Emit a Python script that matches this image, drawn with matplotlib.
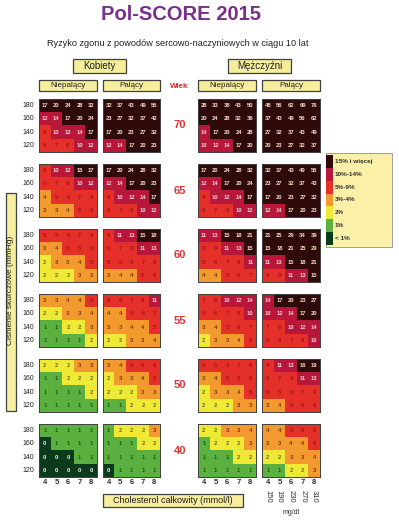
import numpy as np
import matplotlib.pyplot as plt
from matplotlib.colors import ListedColormap, BoundaryNorm
from matplotlib.patches import Rectangle

plt.rcParams['font.family'] = ['Liberation Sans', 'DejaVu Sans']

# --- data (10-year CV death risk, %) ---
ages = [70, 65, 60, 55, 50, 40]
sbp = [180, 160, 140, 120]
chol = [4, 5, 6, 7, 8]
chol_mg = ['150', '190', '230', '270', '310']
legend_labels = ['15% i więcej', '10%-14%', '5%-9%', '3%-4%', '2%', '1%', '< 1%']

women_nonsmoker = [
    [[17, 20, 24, 28, 32], [12, 14, 17, 20, 24], [9, 10, 12, 14, 17], [6, 7, 8, 10, 12]],
    [[9, 10, 12, 15, 17], [6, 7, 8, 10, 12], [4, 5, 6, 7, 8], [3, 3, 4, 5, 6]],
    [[5, 5, 6, 7, 8], [3, 4, 5, 5, 6], [2, 3, 3, 4, 5], [2, 2, 2, 3, 3]],
    [[3, 3, 4, 4, 5], [2, 2, 3, 3, 4], [1, 1, 2, 2, 3], [1, 1, 1, 1, 2]],
    [[2, 2, 2, 3, 3], [1, 1, 2, 2, 2], [1, 1, 1, 1, 2], [1, 1, 1, 1, 1]],
    [[1, 1, 1, 1, 1], [0, 1, 1, 1, 1], [0, 0, 0, 1, 1], [0, 0, 0, 0, 0]],
]
women_smoker = [
    [[32, 37, 43, 49, 55], [23, 27, 32, 37, 42], [17, 20, 23, 27, 32], [12, 14, 17, 20, 23]],
    [[17, 20, 24, 28, 32], [12, 14, 17, 20, 23], [9, 10, 12, 14, 17], [6, 7, 8, 10, 12]],
    [[9, 11, 13, 15, 18], [6, 7, 8, 11, 13], [5, 5, 6, 7, 9], [3, 4, 4, 5, 6]],
    [[5, 6, 7, 9, 11], [4, 4, 5, 6, 7], [3, 3, 4, 4, 5], [2, 2, 3, 3, 4]],
    [[3, 4, 5, 5, 6], [2, 3, 3, 4, 5], [2, 2, 2, 3, 3], [1, 1, 2, 2, 2]],
    [[1, 2, 2, 2, 3], [1, 1, 1, 2, 2], [1, 1, 1, 1, 1], [0, 1, 1, 1, 1]],
]
men_nonsmoker = [
    [[28, 33, 38, 43, 50], [20, 24, 28, 32, 36], [14, 17, 20, 24, 28], [10, 12, 14, 17, 20]],
    [[17, 20, 24, 28, 32], [12, 14, 17, 20, 24], [9, 10, 12, 14, 17], [6, 7, 8, 10, 12]],
    [[11, 13, 15, 18, 21], [8, 9, 11, 13, 15], [5, 6, 7, 9, 11], [4, 4, 5, 6, 7]],
    [[7, 8, 10, 12, 14], [5, 6, 7, 8, 10], [3, 4, 5, 6, 7], [2, 3, 3, 4, 5]],
    [[5, 5, 6, 7, 8], [3, 4, 5, 5, 6], [2, 3, 3, 4, 5], [2, 2, 2, 3, 3]],
    [[2, 2, 3, 3, 4], [1, 2, 2, 2, 3], [1, 1, 1, 2, 2], [1, 1, 1, 1, 1]],
]
men_smoker = [
    [[48, 56, 62, 69, 76], [37, 43, 49, 56, 62], [27, 32, 37, 43, 49], [20, 23, 27, 32, 37]],
    [[32, 37, 43, 49, 55], [23, 27, 32, 37, 43], [17, 20, 23, 27, 32], [12, 14, 17, 20, 23]],
    [[21, 25, 29, 34, 39], [15, 18, 21, 25, 29], [11, 13, 15, 18, 21], [8, 9, 11, 13, 15]],
    [[14, 17, 20, 23, 27], [10, 12, 14, 17, 20], [7, 8, 10, 12, 14], [5, 6, 7, 8, 10]],
    [[9, 11, 13, 16, 19], [6, 7, 9, 11, 13], [5, 5, 6, 7, 9], [3, 4, 5, 5, 6]],
    [[4, 4, 5, 6, 8], [3, 3, 4, 4, 6], [2, 2, 3, 3, 4], [1, 1, 2, 2, 3]],
]

colors = ['#0b3b1c', '#5bb040', '#eee935', '#f39a2e', '#e5302a', '#b8173a', '#2e0a0a']
txt_colors = ['#f0f0f0', '#1c5a16', '#6b6a10', '#7a3a08', '#a01515', '#f6cdd6', '#f0dcc8']
cmap = ListedColormap(colors)
bounds = [-0.5, 0.5, 1.5, 2.5, 4.5, 9.5, 14.5, 200]
norm = BoundaryNorm(bounds, cmap.N)

W, H = 399, 523
fig = plt.figure(figsize=(W / 100, H / 100), dpi=100)


def fx(x):
    return x / W


def fy(y):
    return 1 - y / H


def box(x0, y0, x1, y1, text, size, fc='#f6ee9c', rot=0, ty=None):
    fig.patches.append(Rectangle((fx(x0), fy(y1)), fx(x1) - fx(x0), fy(y0) - fy(y1),
                                 transform=fig.transFigure, fc=fc, ec='#404040', lw=0.9))
    ty = (y0 + y1) / 2 if ty is None else ty
    fig.text(fx((x0 + x1) / 2), fy(ty), text, ha='center', va='center',
             fontsize=size, rotation=rot, color='#202020')


# titles and headers
fig.text(fx(181), fy(15), 'Pol-SCORE 2015', ha='center', va='center', fontsize=14.5,
         fontweight='bold', color='#7a2e8c')
fig.text(fx(178), fy(43), 'Ryzyko zgonu z powodów sercowo-naczyniowych w ciągu 10 lat',
         ha='center', va='center', fontsize=6.6, color='#202020')
box(73, 59, 126, 73, 'Kobiety', 7)
box(228, 59, 291, 73, 'Mężczyźni', 7)
cols = [(39, 97), (103, 160), (198, 256), (262, 320)]
for (x0, x1), lab in zip(cols, ['Niepalący', 'Palący', 'Niepalący', 'Palący']):
    box(x0, 80, x1, 91, lab, 5.8)
fig.text(fx(179), fy(86), 'Wiek', ha='center', va='center', fontsize=5.8,
         fontweight='bold', color='#e02828')

# grids
groups = [women_nonsmoker, women_smoker, men_nonsmoker, men_smoker]
top0, step, bh = 99, 65, 53
for j, grp in enumerate(groups):
    x0, x1 = cols[j]
    for i, age in enumerate(ages):
        top = top0 + step * i
        ax = fig.add_axes([fx(x0), fy(top + bh), fx(x1) - fx(x0), bh / H])
        arr = np.array(grp[i])
        ax.imshow(arr, cmap=cmap, norm=norm, aspect='auto', interpolation='nearest')
        lev = np.digitize(arr, bounds[1:-1])
        for r in range(arr.shape[0]):
            for c in range(arr.shape[1]):
                ax.text(c, r, str(arr[r, c]), ha='center', va='center', fontsize=4.2,
                        fontweight='bold', color=txt_colors[lev[r, c]])
        ax.set_xticks([])
        ax.set_yticks([])
        for s in ax.spines.values():
            s.set_color('#404040')
            s.set_linewidth(0.7)
        if j == 0:
            for r, p in enumerate(sbp):
                fig.text(fx(34), fy(top + bh * (r + 0.5) / 4), str(p), ha='right',
                         va='center', fontsize=5, color='#202020')
            fig.text(fx(180), fy(top + bh / 2), str(age), ha='center', va='center',
                     fontsize=8, fontweight='bold', color='#e03535')
    cw = (x1 - x0) / 5
    for c, v in enumerate(chol):
        fig.text(fx(x0 + cw * (c + 0.5)), fy(482), str(v), ha='center', va='center',
                 fontsize=5.5, fontweight='bold', color='#303030')
        if j == 3:
            fig.text(fx(x0 + cw * (c + 0.5)), fy(496), chol_mg[c], ha='center', va='center',
                     fontsize=5.5, rotation=270, color='#303030')
fig.text(fx(291), fy(512), 'mg/dl', ha='center', va='center', fontsize=5, color='#303030')

box(103, 494, 243, 507, 'Cholesterol całkowity (mmol/l)', 6.5)
box(6, 193, 16, 411, 'Ciśnienie skurczowe (mmHg)', 6.0, rot=90, ty=290)

# legend
fig.patches.append(Rectangle((fx(326), fy(247)), fx(392) - fx(326), fy(153) - fy(247),
                             transform=fig.transFigure, fc='#faf0a8', ec='#909090', lw=0.6))
seg = 90 / 7
for k, lab in enumerate(legend_labels):
    y0 = 155 + seg * k
    fig.patches.append(Rectangle((fx(326), fy(y0 + seg)), fx(333) - fx(326), seg / H,
                                 transform=fig.transFigure, fc=colors[6 - k], ec='none'))
    fig.text(fx(335), fy(y0 + seg / 2), lab, ha='left', va='center', fontsize=4.6,
             fontweight='bold', color='#303030')

fig.savefig('out.png', dpi=100)
